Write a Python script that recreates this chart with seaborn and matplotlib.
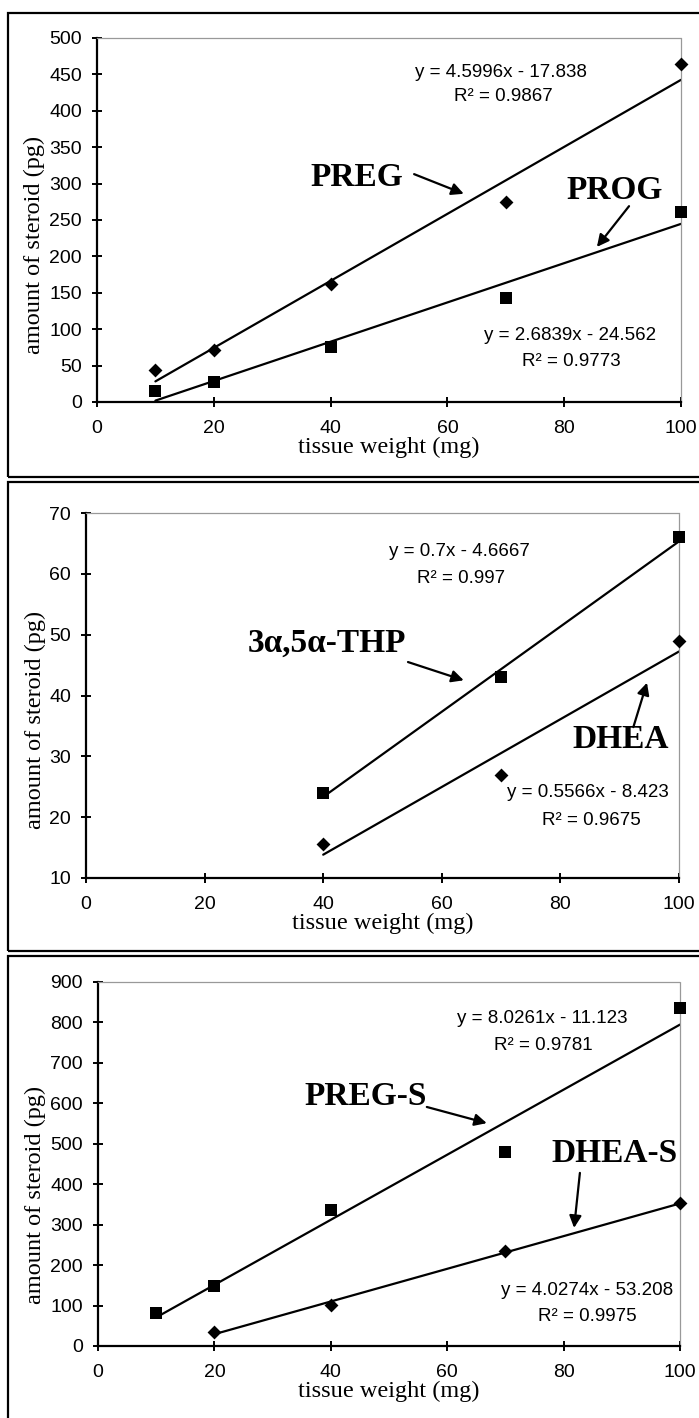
import matplotlib.pyplot as plt
import seaborn as sns
from matplotlib.patches import Rectangle

# valores (peso do tecido em mg, quantidade de esteroide em pg)
peso_a = [10, 20, 40, 70, 100]
preg = [44, 71, 162, 275, 464]
prog = [15, 27, 76, 143, 261]

peso_b = [40, 70, 100]
thp = [24, 43, 66]
dhea = [15.6, 27.0, 49.0]

peso_preg_s = [10, 20, 40, 70, 100]
preg_s = [82, 148, 336, 480, 836]
peso_dhea_s = [20, 40, 70, 100]
dhea_s = [35, 101, 234, 353]

x_ticks = [0, 20, 40, 60, 80, 100]
y_ticks_a = [0, 50, 100, 150, 200, 250, 300, 350, 400, 450, 500]
y_ticks_b = [10, 20, 30, 40, 50, 60, 70]
y_ticks_c = [0, 100, 200, 300, 400, 500, 600, 700, 800, 900]

sns.set_theme(style="ticks")
plt.rcParams["font.family"] = ["Liberation Sans", "DejaVu Sans"]
plt.rcParams["text.color"] = "black"
plt.rcParams["axes.labelcolor"] = "black"

W, H = 699, 1418
fig = plt.figure(figsize=(W / 100, H / 100), dpi=100)

# molduras dos três painéis (em pixels)
for top, bottom in [(13, 477), (482, 951), (956, 1440)]:
    fig.patches.append(Rectangle((8 / W, 1 - bottom / H), 760 / W, (bottom - top) / H,
                                 transform=fig.transFigure, fill=False,
                                 edgecolor="black", linewidth=1.6))

# eixos: (x0, x100, y_topo, y_base) em pixels
caixas = [(97, 681, 38, 402), (86, 679, 513, 878), (98, 680, 982, 1346)]
axes = []
for x0, x1, yt, yb in caixas:
    axes.append(fig.add_axes([x0 / W, 1 - yb / H, (x1 - x0) / W, (yb - yt) / H]))

serif = ["Liberation Serif", "DejaVu Serif"]


def estilo(ax, ylim, yticks, ylab_x, ylab_y):
    ax.set_xlim(0, 100)
    ax.set_ylim(*ylim)
    ax.set_xticks(x_ticks)
    ax.set_yticks(yticks)
    ax.set_facecolor("white")
    for lado in ("left", "bottom"):
        ax.spines[lado].set(color="black", linewidth=1.6)
    for lado in ("top", "right"):
        ax.spines[lado].set(visible=True, color="0.6", linewidth=0.9, linestyle=(0, (1, 1)))
    ax.tick_params(direction="inout", length=7.5, width=1.4, labelsize=14, colors="black")
    ax.tick_params(axis="y", pad=7)
    ax.tick_params(axis="x", pad=9)
    ax.set_xlabel("tissue weight (mg)", fontsize=17.5, family=serif, color="black")
    ax.set_ylabel("amount of steroid (pg)", fontsize=17.5, family=serif, color="black")
    ax.xaxis.label.set_va("center")
    ax.yaxis.label.set_va("center")
    ax.xaxis.set_label_coords(0.5, -45 / 364)
    ax.yaxis.set_label_coords(ylab_x, ylab_y)


def serie(ax, x, y, marcador, tam):
    sns.regplot(x=x, y=y, ax=ax, ci=None, color="black", marker=marcador,
                scatter_kws={"s": tam, "clip_on": False, "zorder": 4, "linewidths": 0,
                             "alpha": 1.0},
                line_kws={"linewidth": 1.6, "color": "black"})


def rotulo(ax, txt, pos, cauda, ponta):
    ax.text(*pos, txt, ha="center", va="center", fontsize=24, fontweight="bold",
            family=serif, color="black")
    ax.annotate("", xy=ponta, xytext=cauda,
                arrowprops=dict(arrowstyle="-|>", color="black", lw=1.6,
                                mutation_scale=18, shrinkA=0, shrinkB=0))


def equacao(ax, linha1, pos1, linha2, pos2):
    ax.text(*pos1, linha1, ha="center", va="center", fontsize=13.5, color="black")
    ax.text(*pos2, linha2, ha="center", va="center", fontsize=13.5, color="black")


# painel 1: PREG e PROG
ax = axes[0]
serie(ax, peso_a, preg, "D", 50)
serie(ax, peso_a, prog, "s", 68)
estilo(ax, (0, 500), y_ticks_a, -0.108, 0.431)
equacao(ax, "y = 4.5996x - 17.838", (69.2, 453), "R² = 0.9867", (69.5, 419))
equacao(ax, "y = 2.6839x - 24.562", (81.0, 92), "R² = 0.9773", (81.3, 55))
rotulo(ax, "PREG", (44.5, 309), (54.3, 313), (62.8, 286))
rotulo(ax, "PROG", (88.7, 291), (91.1, 269), (85.6, 213))

# painel 2: 3α,5α-THP e DHEA
ax = axes[1]
serie(ax, peso_b, thp, "s", 68)
serie(ax, peso_b, dhea, "D", 50)
estilo(ax, (10, 70), y_ticks_b, -0.086, 0.433)
equacao(ax, "y = 0.7x - 4.6667", (62.9, 63.75), "R² = 0.997", (63.3, 59.3))
equacao(ax, "y = 0.5566x - 8.423", (84.7, 24.0), "R² = 0.9675", (85.3, 19.5))
rotulo(ax, "3α,5α-THP", (40.6, 48.6), (54.3, 45.5), (63.7, 42.5))
rotulo(ax, "DHEA", (90.2, 32.7), (92.3, 34.8), (94.6, 42.1))

# painel 3: PREG-S e DHEA-S
ax = axes[2]
serie(ax, peso_preg_s, preg_s, "s", 68)
serie(ax, peso_dhea_s, dhea_s, "D", 50)
estilo(ax, (0, 900), y_ticks_c, -0.107, 0.415)
equacao(ax, "y = 8.0261x - 11.123", (76.3, 809), "R² = 0.9781", (76.6, 742))
equacao(ax, "y = 4.0274x - 53.208", (84.0, 138), "R² = 0.9975", (84.0, 72))
rotulo(ax, "PREG-S", (45.9, 616), (56.5, 591), (66.8, 551))
rotulo(ax, "DHEA-S", (88.8, 477), (82.8, 428), (81.8, 292))

fig.savefig("out.png", dpi=100, facecolor="white")
